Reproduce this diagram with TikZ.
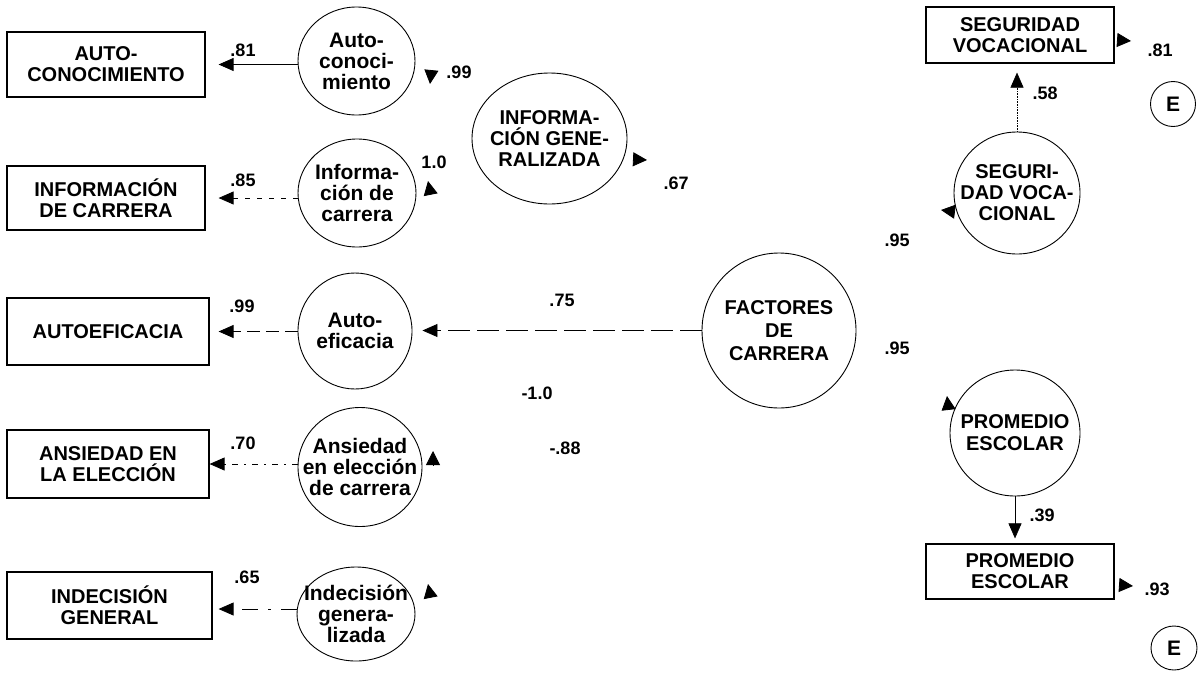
\documentclass[tikz,border=0pt]{standalone}
\usepackage{fontspec}
\setmainfont{Liberation Sans}
\usetikzlibrary{arrows.meta,shapes.geometric}
\begin{document}
\begin{tikzpicture}[x=1pt,y=-1pt,
  every node/.style={font=\bfseries\fontsize{20}{21}\selectfont, inner sep=0pt, align=center},
  obs/.style={draw, rectangle, line width=1.2pt},
  latent/.style={draw, ellipse, line width=0.9pt},
  lattext/.style={font=\bfseries\fontsize{21}{21}\selectfont, align=center},
  coef/.style={font=\bfseries\fontsize{18}{18}\selectfont},
  arr/.style={line width=0.8pt, -{Triangle[length=15pt,width=13pt]}},
  tiponly/.style={line width=0.8pt, -{Triangle[length=14pt,width=14pt]}}]
\useasboundingbox (0,0) rectangle (1198,672);

% observed indicators (left column)
\node[obs, minimum width=198pt, minimum height=65pt] (b1) at (106,64.5) {AUTO-\\CONOCIMIENTO};
\node[obs, minimum width=198pt, minimum height=64pt] (b2) at (106,198) {INFORMACIÓN\\DE CARRERA};
\node[obs, minimum width=202pt, minimum height=67pt] (b3) at (108,331.5) {AUTOEFICACIA};
\node[obs, minimum width=202pt, minimum height=68pt] (b4) at (108,464) {ANSIEDAD EN\\LA ELECCIÓN};
\node[obs, minimum width=205pt, minimum height=67pt] (b5) at (109.5,605.5) {INDECISIÓN\\GENERAL};

% first-order factors (outline sized independently of the text)
\node[latent, minimum width=117pt, minimum height=108pt,
  label={[lattext]center:{Auto-\\conoci-\\miento}}] (c1) at (356.5,61) {};
\node[latent, minimum width=118pt, minimum height=108pt,
  label={[lattext]center:{Informa-\\ción de\\carrera}}] (c2) at (357,193) {};
\node[latent, minimum width=114pt, minimum height=116pt,
  label={[lattext]center:{Auto-\\eficacia}}] (c3) at (355,331) {};
\node[latent, minimum width=124pt, minimum height=119pt,
  label={[lattext]center:{Ansiedad\\en elección\\de carrera}}] (c4) at (360,467) {};
\node[latent, minimum width=118pt, minimum height=94pt,
  label={[lattext]center:{Indecisión\\genera-\\lizada}}] (c5) at (356,614) {};

% higher-order factors
\node[latent, minimum width=155pt, minimum height=131pt,
  label={[lattext, font=\bfseries\fontsize{20}{21}\selectfont]center:{INFORMA-\\CIÓN GENE-\\RALIZADA}}] (G) at (549.5,138.5) {};
\node[latent, minimum width=154pt, minimum height=155pt,
  label={[lattext, font=\bfseries\fontsize{20}{23}\selectfont]center:{FACTORES\\DE\\CARRERA}}] (F) at (779,330.5) {};

% right-hand side
\node[obs, minimum width=188pt, minimum height=56pt] (bs) at (1020,35) {SEGURIDAD\\VOCACIONAL};
\node[latent, minimum width=126pt, minimum height=122pt,
  label={[lattext, font=\bfseries\fontsize{20}{21}\selectfont]center:{SEGURI-\\DAD VOCA-\\CIONAL}}] (S) at (1017,193) {};
\node[latent, minimum width=130pt, minimum height=126pt,
  label={[lattext, font=\bfseries\fontsize{20}{22}\selectfont]center:{PROMEDIO\\ESCOLAR}}] (P) at (1015,433) {};
\node[obs, minimum width=188pt, minimum height=55pt] (bp) at (1020,571.5) {PROMEDIO\\ESCOLAR};
\node[latent, minimum width=45pt, minimum height=45pt,
  label={[lattext]center:E}] (E1) at (1173,104) {};
\node[latent, minimum width=46pt, minimum height=44pt,
  label={[lattext]center:E}] (E2) at (1174,648) {};

% loadings of the first-order factors
\draw[arr, shorten >=13pt] (b1.east -| c1.west) -- (b1.east);
\draw[arr, shorten >=13pt, dash pattern=on 5pt off 7pt] (b2.east -| c2.west) -- (b2.east);
\draw[arr, shorten >=9pt, dash pattern=on 13pt off 6pt] (b3.east -| c3.west) -- (b3.east);
\draw[arr, dash pattern=on 6pt off 6pt on 2pt off 6pt] (b4.east -| c4.west) -- (b4.east);
\draw[arr, shorten >=6pt, dash pattern=on 16pt off 10pt on 3pt off 10pt] ([yshift=-3.5pt]b5.east -| c5.west) -- ([yshift=-3.5pt]b5.east);
\draw[arr, shorten >=10pt, dash pattern=on 22pt off 7pt] (F.west) -- (F.west -| c3.east);

% right-hand loadings
\draw[arr, line width=0.6pt, densely dotted, shorten >=9pt] (S.north) -- (S.north |- bs.south);
\draw[arr, line width=0.6pt, shorten >=5pt] (P.south) -- (P.south |- bp.north);

% arrowheads of the remaining paths
\coordinate (a1s) at (431.4,70.1);  \coordinate (a1t) at (430,84);
\coordinate (a2s) at (430.7,194.7); \coordinate (a2t) at (428,181);
\coordinate (a3s) at (433,465);     \coordinate (a3t) at (433,451);
\coordinate (a4s) at (430.7,597.7); \coordinate (a4t) at (428,584);
\coordinate (a5s) at (633,159.3);   \coordinate (a5t) at (647,160);
\coordinate (a6s) at (954.9,211.7); \coordinate (a6t) at (941,210);
\coordinate (a7s) at (948.6,409.9); \coordinate (a7t) at (947,396);
\coordinate (a8s) at (1117,40);     \coordinate (a8t) at (1131,41);
\coordinate (a9s) at (1119,585);    \coordinate (a9t) at (1133,586);
\foreach \k in {1,...,9} {\draw[tiponly] (a\k s) -- (a\k t);}

% coefficients
\node[coef] (l1) at (243,50) {.81};
\node[coef] (l2) at (243,180) {.85};
\node[coef] (l3) at (242,306) {.99};
\node[coef] (l4) at (243,443) {.70};
\node[coef] (l5) at (247,577) {.65};
\node[coef] (l6) at (459,72) {.99};
\node[coef] (l7) at (434,162) {1.0};
\node[coef] (l8) at (676,183) {.67};
\node[coef] (l9) at (562,300) {.75};
\node[coef] (l10) at (537,393) {-1.0};
\node[coef] (l11) at (565,448) {-.88};
\node[coef] (l12) at (897,240) {.95};
\node[coef] (l13) at (897,348) {.95};
\node[coef] (l14) at (1045,93) {.58};
\node[coef] (l15) at (1160,50) {.81};
\node[coef] (l16) at (1042,515) {.39};
\node[coef] (l17) at (1157,589) {.93};
\end{tikzpicture}
\end{document}
